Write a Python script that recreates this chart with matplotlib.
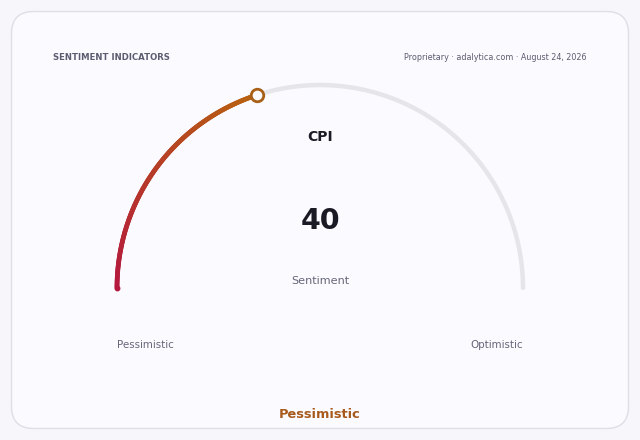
import matplotlib
matplotlib.use("Agg")
import matplotlib.pyplot as plt
import numpy as np
from matplotlib.collections import LineCollection
from matplotlib.colors import LinearSegmentedColormap
from matplotlib.patches import FancyBboxPatch

# Data
title = "SENTIMENT INDICATORS"
source = "Proprietary · adalytica.com · August 24, 2026"
indicator = "CPI"
value = 40
value_min = 0
value_max = 100
sub_label = "Sentiment"
low_label = "Pessimistic"
high_label = "Optimistic"
status = "Pessimistic"

W, H = 640, 440
fig = plt.figure(figsize=(W / 100, H / 100), dpi=100, facecolor="#f7f7fb")
ax = fig.add_axes([0, 0, 1, 1])
ax.set_xlim(0, W)
ax.set_ylim(H, 0)
ax.axis("off")

# card
card = FancyBboxPatch((11.5, 11.5), 617, 417, boxstyle="round,pad=0,rounding_size=22",
                      facecolor="#fafaff", edgecolor="#dedee8", lw=1.0)
ax.add_patch(card)

cx, cy, r = 320, 288, 203

# background track
th = np.linspace(np.pi, 0, 300)
ax.plot(cx + r * np.cos(th), cy - r * np.sin(th), color="#e5e5ea", lw=3.2,
        solid_capstyle="round", zorder=2)

# value arc with gradient
frac = (value - value_min) / (value_max - value_min)
th_v = np.linspace(np.pi, np.pi - frac * np.pi, 200)
xs = cx + r * np.cos(th_v)
ys = cy - r * np.sin(th_v)
pts = np.column_stack([xs, ys]).reshape(-1, 1, 2)
segs = np.concatenate([pts[:-1], pts[1:]], axis=1)
cmap = LinearSegmentedColormap.from_list("g", ["#b5173f", "#b8620f"])
cols = cmap(np.linspace(0, 1, len(segs)))
lc = LineCollection(segs, colors=cols, linewidths=3.4, capstyle="round", zorder=3)
ax.add_collection(lc)
ax.plot(xs[0], ys[0], "o", ms=3.2, color=cols[0], zorder=3)
ax.plot(xs[-1], ys[-1], "o", ms=9, mfc="#fafaff", mec="#a85f16", mew=2, zorder=4)

# texts
ax.text(53, 57, title, fontsize=6.1, fontweight="bold", color="#5c5c70",
        ha="left", va="center")
ax.text(587, 57, source, fontsize=5.75, color="#5c5c70", ha="right", va="center")
ax.text(cx, 137, indicator, fontsize=10, fontweight="bold", color="#1a1a24",
        ha="center", va="center")
ax.text(cx, 221, str(value), fontsize=20.5, fontweight="bold", color="#1a1a24",
        ha="center", va="center")
ax.text(cx, 281, sub_label, fontsize=8.1, color="#66667a", ha="center", va="center")
ax.text(145, 345, low_label, fontsize=7.4, color="#66667a", ha="center", va="center")
ax.text(497, 345, high_label, fontsize=7.4, color="#66667a", ha="center", va="center")
ax.text(cx, 414, status, fontsize=9.4, fontweight="bold", color="#a85a1c",
        ha="center", va="center")

fig.savefig("out.png", dpi=100, facecolor=fig.get_facecolor())
